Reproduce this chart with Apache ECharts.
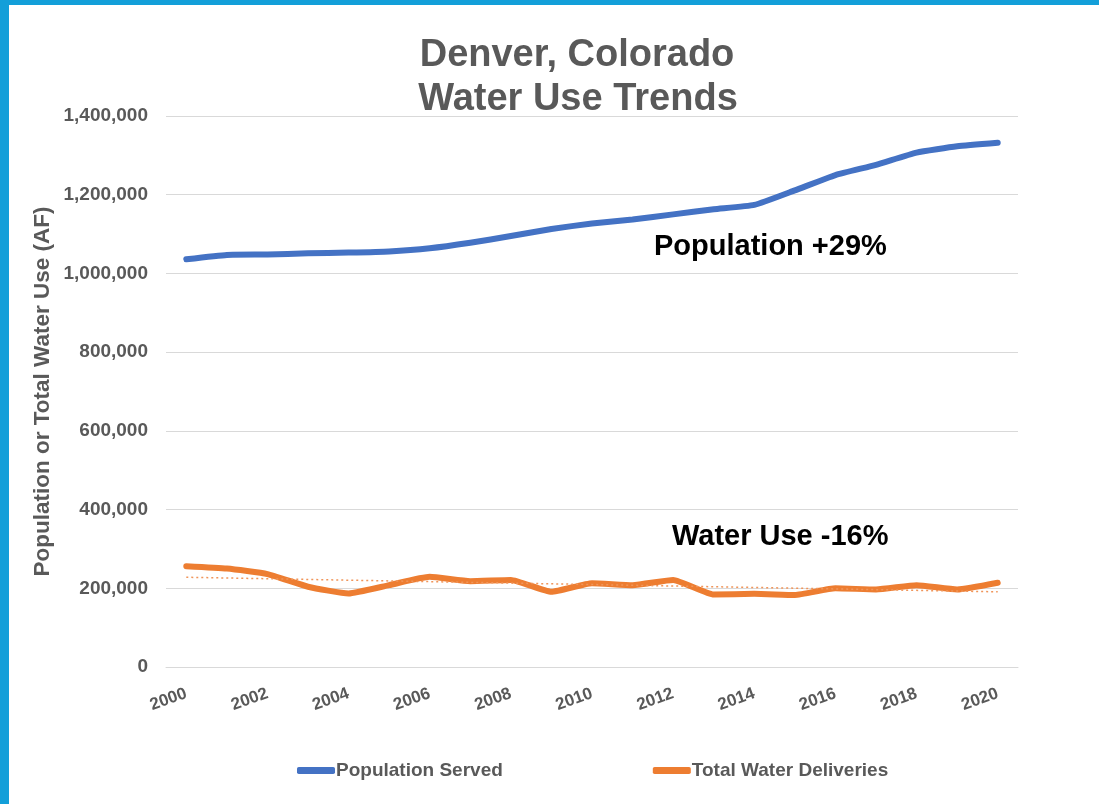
<!DOCTYPE html>
<html>
<head>
<meta charset="utf-8">
<style>
  html, body { margin: 0; padding: 0; background: #ffffff; }
  #wrap { position: relative; width: 1099px; height: 804px; overflow: hidden; background: #fff; }
  #chart { position: absolute; left: 0; top: 0; width: 1099px; height: 804px; }
  #bl { position: absolute; left: 0; top: 0; width: 9px; height: 804px; background: #139fd9; }
  #bt { position: absolute; left: 0; top: 0; width: 1099px; height: 5px; background: #139fd9; }
</style>
<script src="https://cdn.jsdelivr.net/npm/echarts@6/dist/echarts.min.js"></script>
</head>
<body>
<div id="wrap">
  <div id="chart"></div>
  <div id="bl"></div>
  <div id="bt"></div>
</div>
<script>
const years = ['2000','2001','2002','2003','2004','2005','2006','2007','2008','2009','2010',
               '2011','2012','2013','2014','2015','2016','2017','2018','2019','2020'];
const populationServed = [1036000, 1047000, 1048000, 1051000, 1053000, 1056000, 1064000, 1078000,
                          1095000, 1113000, 1127000, 1137000, 1150000, 1163000, 1174000, 1211000,
                          1250000, 1276000, 1307000, 1323000, 1332000];
const totalWaterDeliveries = [256000, 250000, 236000, 204000, 187000, 208000, 229000, 218000,
                              221000, 191000, 213000, 208000, 221000, 184000, 186000, 183000,
                              200000, 197000, 208000, 197000, 214000];
const waterTrendEnds = [228000, 191000];
const seriesNames = ['Population Served', 'Total Water Deliveries'];
const titleLines = ['Denver, Colorado', 'Water Use Trends'];
const annotations = ['Population +29%', 'Water Use -16%'];
const yAxisName = 'Population or Total Water Use (AF)';

const chart = echarts.init(document.getElementById('chart'), null, { renderer: 'canvas' });
const FONT = 'Liberation Sans, Arial, Helvetica, sans-serif';
const GRAY = '#595959';

chart.setOption({
  animation: false,
  backgroundColor: '#ffffff',
  grid: { left: 166, right: 81, top: 116, bottom: 137, containLabel: false },
  legend: {
    left: 292, top: 756,
    itemGap: 150,
    itemWidth: 38, itemHeight: 7,
    icon: 'roundRect',
    textStyle: { color: GRAY, fontFamily: FONT, fontSize: 19, fontWeight: 'bold', padding: [0, 0, 0, -4] },
    data: seriesNames
  },
  xAxis: {
    type: 'category',
    data: years,
    boundaryGap: true,
    axisLine: { show: true, lineStyle: { color: '#d9d9d9', width: 1 } },
    axisTick: { show: false },
    axisLabel: {
      interval: 1,
      rotate: 20,
      margin: 26,
      color: GRAY,
      fontFamily: FONT,
      fontSize: 17,
      fontWeight: 'bold'
    },
    splitLine: { show: false }
  },
  yAxis: {
    type: 'value',
    min: 0, max: 1400000, interval: 200000,
    name: yAxisName,
    nameLocation: 'middle',
    nameGap: 112,
    nameMoveOverlap: false,
    nameTextStyle: { color: GRAY, fontFamily: FONT, fontSize: 22.5, fontWeight: 'bold' },
    axisLine: { show: false },
    axisTick: { show: false },
    axisLabel: {
      margin: 18,
      color: GRAY, fontFamily: FONT, fontSize: 19, fontWeight: 'bold',
      formatter: v => v.toLocaleString('en-US')
    },
    splitLine: { lineStyle: { color: '#d9d9d9', width: 1 } }
  },
  series: [
    {
      name: seriesNames[0],
      type: 'line',
      data: populationServed,
      smooth: 0.15,
      showSymbol: false,
      symbol: 'none',
      color: '#4472C4',
      lineStyle: { width: 6, color: '#4472C4', cap: 'round', join: 'round' }
    },
    {
      name: seriesNames[1],
      type: 'line',
      data: totalWaterDeliveries,
      smooth: 0.15,
      showSymbol: false,
      symbol: 'none',
      color: '#ED7D31',
      lineStyle: { width: 6, color: '#ED7D31', cap: 'round', join: 'round' },
      markLine: {
        silent: true,
        symbol: ['none', 'none'],
        label: { show: false },
        lineStyle: { type: [2, 3], width: 1.5, color: '#F0955A' },
        data: [[
          { coord: [years[0], waterTrendEnds[0]] },
          { coord: [years[years.length - 1], waterTrendEnds[1]] }
        ]]
      },
      z: 3
    }
  ],
  graphic: [
    { type: 'text', x: 577, y: 56, style: { text: titleLines[0], fill: GRAY, font: 'bold 38px ' + FONT, textAlign: 'center', textVerticalAlign: 'middle' } },
    { type: 'text', x: 578, y: 100, style: { text: titleLines[1], fill: GRAY, font: 'bold 38px ' + FONT, textAlign: 'center', textVerticalAlign: 'middle' } },
    { type: 'text', x: 654, y: 247, style: { text: annotations[0], fill: '#000000', font: 'bold 29px ' + FONT, textAlign: 'left', textVerticalAlign: 'middle' } },
    { type: 'text', x: 672, y: 537, style: { text: annotations[1], fill: '#000000', font: 'bold 29px ' + FONT, textAlign: 'left', textVerticalAlign: 'middle' } }
  ]
});
</script>
</body>
</html>
